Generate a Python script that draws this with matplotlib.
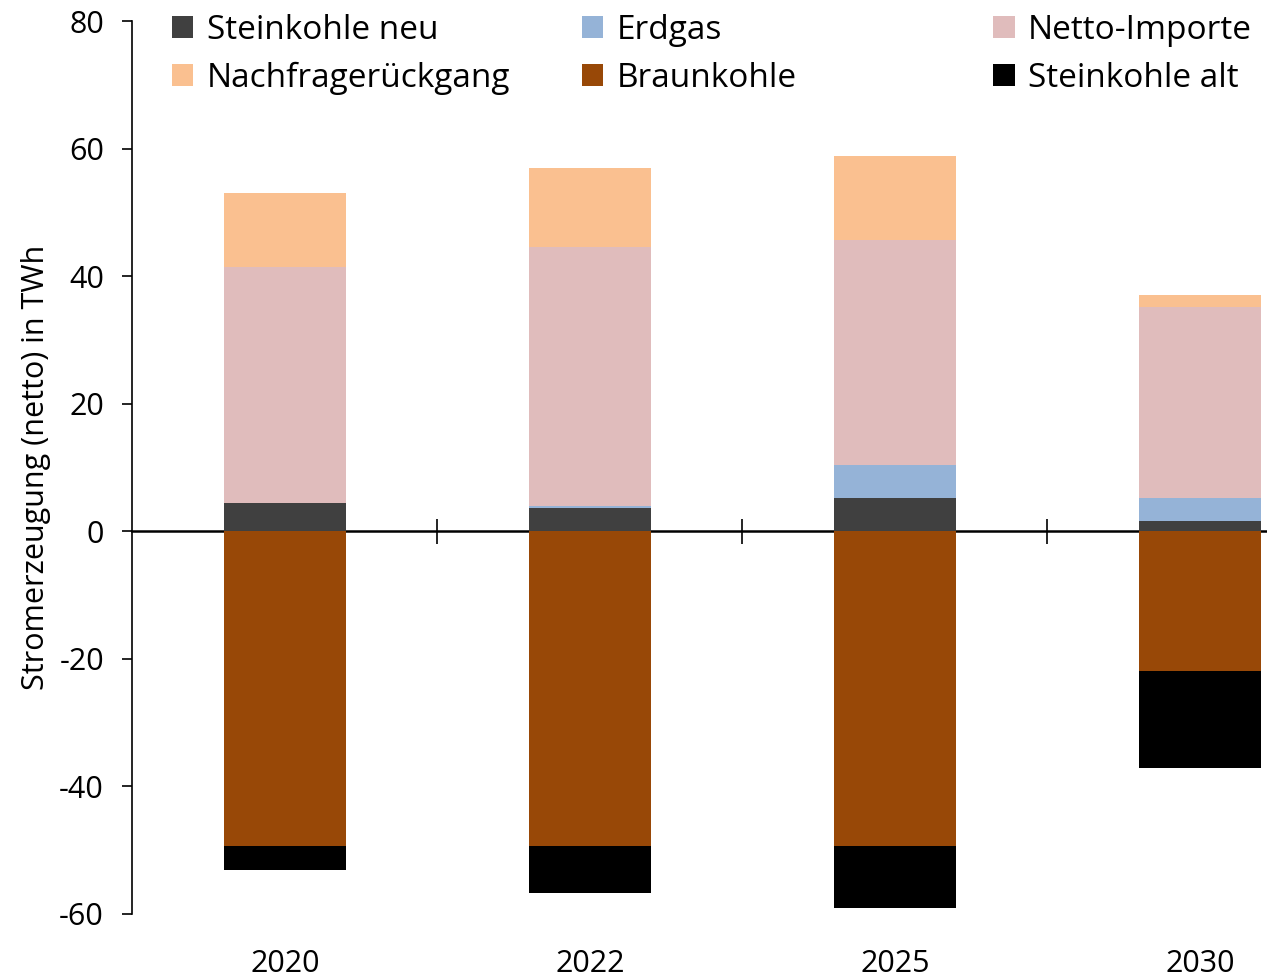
import matplotlib
matplotlib.use("Agg")
import matplotlib.pyplot as plt
import numpy as np

plt.rcParams['font.family'] = ['Open Sans', 'DejaVu Sans']

years = ["2020", "2022", "2025", "2030"]

# positive contributions (stacked upward from zero)
steinkohle_neu = [4.4, 3.6, 5.2, 1.6]
erdgas = [0.0, 0.4, 5.2, 3.6]
netto_importe = [37.0, 40.5, 35.2, 29.9]
nachfrage = [11.6, 12.4, 13.3, 1.9]

# negative contributions (stacked downward from zero)
braunkohle = [-49.4, -49.4, -49.4, -21.9]
steinkohle_alt = [-3.7, -7.3, -9.7, -15.2]

yticks = [-60, -40, -20, 0, 20, 40, 60, 80]

colors = {
    "Steinkohle neu": "#404040",
    "Erdgas": "#95B3D7",
    "Netto-Importe": "#E0BCBC",
    "Nachfragerückgang": "#FAC090",
    "Braunkohle": "#984807",
    "Steinkohle alt": "#000000",
}

fig = plt.figure(figsize=(12.67, 9.77), dpi=100)
ax = fig.add_axes([0.1045, 0.0645, 0.963, 0.914])

x = np.arange(len(years))
w = 0.40

pos_series = [("Steinkohle neu", steinkohle_neu), ("Erdgas", erdgas),
              ("Netto-Importe", netto_importe), ("Nachfragerückgang", nachfrage)]
neg_series = [("Braunkohle", braunkohle), ("Steinkohle alt", steinkohle_alt)]

handles = {}
bottom = np.zeros(len(years))
for name, vals in pos_series:
    v = np.array(vals)
    handles[name] = ax.bar(x, v, w, bottom=bottom, color=colors[name], linewidth=0)
    bottom += v
bottom = np.zeros(len(years))
for name, vals in neg_series:
    v = np.array(vals)
    handles[name] = ax.bar(x, v, w, bottom=bottom, color=colors[name], linewidth=0)
    bottom += v

ax.set_xlim(-0.5, 3.5)
ax.set_ylim(-60, 80)
ax.set_yticks(yticks)
ax.set_yticklabels([str(t) for t in yticks], fontsize=22)
ax.tick_params(axis='y', direction='out', length=7.5, width=1.2, pad=13)

for s in ["top", "right", "bottom"]:
    ax.spines[s].set_visible(False)
ax.spines["left"].set_linewidth(1.2)

ax.set_xticks(x)
ax.set_xticklabels(years, fontsize=22)
ax.tick_params(axis='x', length=0, pad=25)

# zero line with category separators
zero_ax = ax.secondary_xaxis(60 / 140)
zero_ax.set_xticks([0.5, 1.5, 2.5])
zero_ax.set_xticklabels([])
zero_ax.tick_params(direction='inout', length=18, width=1.2)
zero_ax.spines["bottom"].set_linewidth(1.8)

ax.set_ylabel("Stromerzeugung (netto) in TWh", fontsize=22, labelpad=6)

legend_cols = [
    (["Steinkohle neu", "Nachfragerückgang"], 0.117),
    (["Erdgas", "Braunkohle"], 0.4408),
    (["Netto-Importe", "Steinkohle alt"], 0.7653),
]
for names, xpos in legend_cols:
    leg = fig.legend([handles[n] for n in names], names, loc="upper left",
                     bbox_to_anchor=(xpos, 1.010), frameon=False, fontsize=24,
                     handlelength=0.65, handleheight=0.65, handletextpad=0.4,
                     labelspacing=0.45, borderpad=0.2)

fig.savefig("out.png", dpi=100)
